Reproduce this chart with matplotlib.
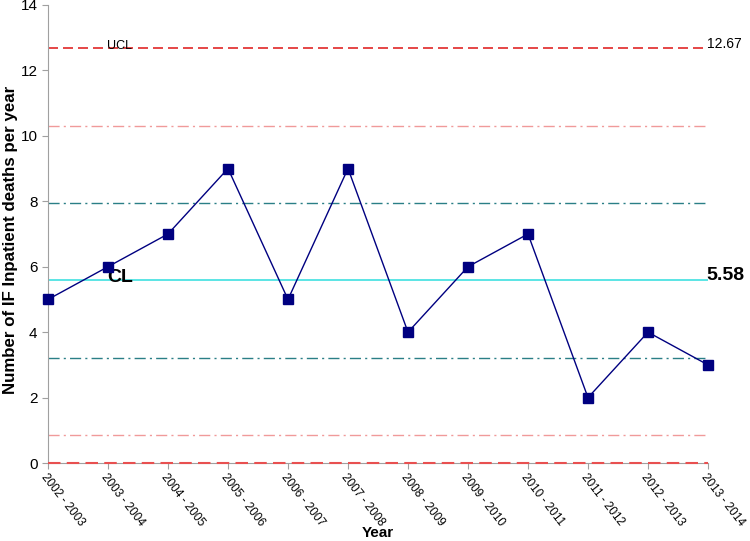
import numpy as np
import matplotlib
matplotlib.use("Agg")
import matplotlib.pyplot as plt

plt.rcParams["font.family"] = ["Liberation Sans", "DejaVu Sans"]

years = ["2002 - 2003", "2003 - 2004", "2004 - 2005", "2005 - 2006", "2006 - 2007",
         "2007 - 2008", "2008 - 2009", "2009 - 2010", "2010 - 2011", "2011 - 2012",
         "2012 - 2013", "2013 - 2014"]
deaths = [5, 6, 7, 9, 5, 9, 4, 6, 7, 2, 4, 3]

cl = 5.58
ucl = 12.67
sigma = (ucl - cl) / 3
lcl = 0

x = np.arange(len(years))

fig = plt.figure(figsize=(7.5, 5.41), dpi=100)
ax = fig.add_axes([0.064, 0.144, 0.88, 0.847])

dashdot = (0, (8, 3, 1.5, 3))
ax.axhline(ucl, color="#e02828", linestyle=(0, (6, 3)), linewidth=1.2)
ax.axhline(cl + 2 * sigma, color="#f09a9a", linestyle=dashdot, linewidth=1)
ax.axhline(cl + sigma, color="#2a7f86", linestyle=dashdot, linewidth=1)
ax.axhline(cl, color="#40e0e0", linestyle="-", linewidth=1.2)
ax.axhline(cl - sigma, color="#2a7f86", linestyle=dashdot, linewidth=1)
ax.axhline(cl - 2 * sigma, color="#f09a9a", linestyle=dashdot, linewidth=1)
ax.axhline(lcl, color="#e85050", linestyle=(0, (6, 3)), linewidth=1.5, zorder=3, clip_on=False)

ax.plot(x, deaths, color="#000080", linewidth=1, marker="s", markersize=6.5, zorder=4, clip_on=False)

ax.text(0.98, ucl - 0.02, "UCL", fontsize=9, ha="left", va="baseline")
ax.text(x[-1] - 0.02, ucl + 0.02, "12.67", fontsize=10, ha="left", va="baseline")
ax.text(0.98, cl - 0.04, "CL", fontsize=14, fontweight="bold", ha="left", va="baseline")
ax.text(x[-1] - 0.02, cl + 0.02, "5.58", fontsize=14, fontweight="bold", ha="left", va="baseline")

ax.set_xlim(x[0], x[-1])
ax.set_ylim(0, 14)
ax.set_yticks(range(0, 15, 2))
ax.set_xticks(x)
ax.set_xticklabels(years, rotation=-52, ha="left", va="top", rotation_mode="anchor", fontsize=8.5)
ax.tick_params(axis="y", labelsize=11, color="#a0a0a0", length=4)
ax.tick_params(axis="x", color="#a0a0a0", length=4, pad=2)

for s in ["top", "right"]:
    ax.spines[s].set_visible(False)
for s in ["left", "bottom"]:
    ax.spines[s].set_color("#a0a0a0")

ax.set_ylabel("Number of IF Inpatient deaths per year", fontsize=12.2, fontweight="bold")
ax.yaxis.set_label_coords(-0.046, 0.487)
fig.text(0.504, 0.002, "Year", fontsize=11, fontweight="bold", ha="center", va="bottom")

plt.savefig("out.png", dpi=100)
